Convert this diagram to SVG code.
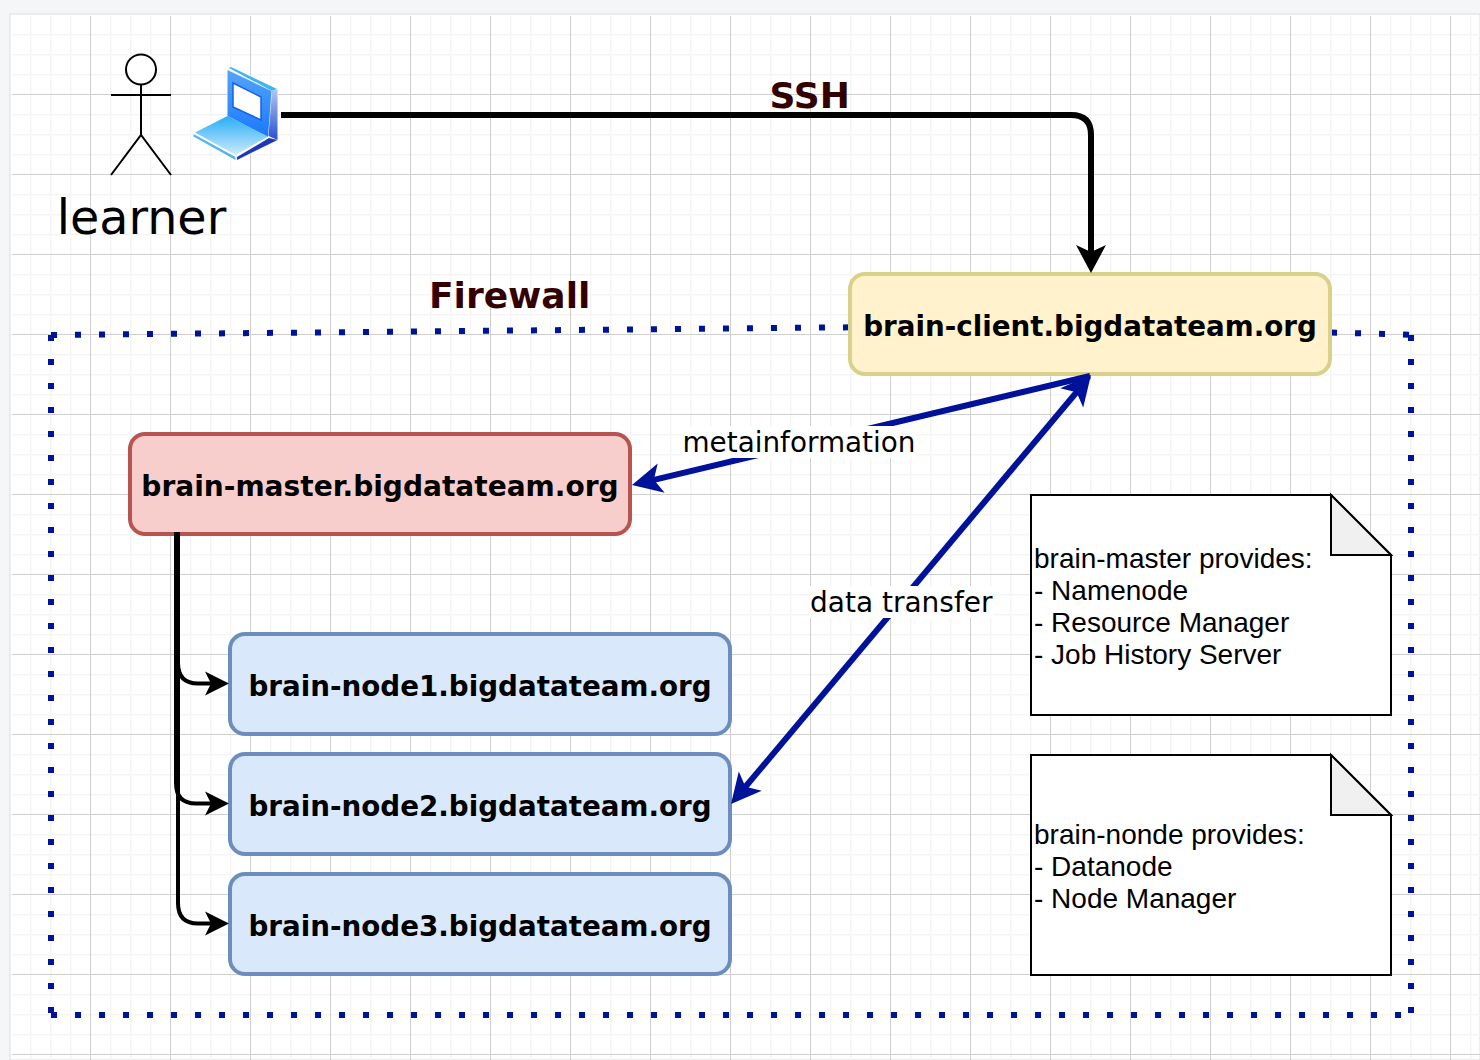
<svg xmlns="http://www.w3.org/2000/svg" width="1480" height="1060" viewBox="0 0 1480 1060">
<style>
.b{font-family:"DejaVu Sans",sans-serif;font-weight:bold;font-size:27.750px;fill:#000;text-anchor:middle}
.h{font-family:"DejaVu Sans",sans-serif;font-weight:bold;fill:#330000;font-size:36px}
.l{font-family:"DejaVu Sans",sans-serif;font-size:27.850px;fill:#000}
.n{font-family:"Liberation Sans",Arial,sans-serif;font-size:28px;fill:#000}
.box{stroke-width:4}
.note{fill:#fff;stroke:#000;stroke-width:2}
.fold{fill:#f0f0f0;stroke:#000;stroke-width:2;stroke-linejoin:miter}
.dot{fill:none;stroke:#00119a;stroke-width:6;stroke-dasharray:6 18}
.blue{fill:none;stroke:#00119a;stroke-width:6}
.blk{fill:none;stroke:#000;stroke-width:4}
</style>
<defs>
<pattern id="grid" patternUnits="userSpaceOnUse" x="90" y="94" width="80" height="80">
<rect x="20" y="0" width="1.5" height="80" fill="#f5f5f5"/><rect x="40" y="0" width="1.5" height="80" fill="#f5f5f5"/><rect x="60" y="0" width="1.5" height="80" fill="#f5f5f5"/>
<rect x="0" y="20" width="80" height="1.5" fill="#f5f5f5"/><rect x="0" y="40" width="80" height="1.5" fill="#f5f5f5"/><rect x="0" y="60" width="80" height="1.5" fill="#f5f5f5"/>
<rect x="0" y="0" width="1" height="80" fill="#cfcfcf"/><rect x="0" y="0" width="80" height="1" fill="#cfcfcf"/>
</pattern>
<marker id="ab" markerUnits="userSpaceOnUse" markerWidth="32" markerHeight="32" refX="16" refY="16" orient="auto-start-reverse"><path d="M30,16 L0,1 L7.500,16 L0,31 Z" fill="#00119a"/></marker>
<marker id="ak" markerUnits="userSpaceOnUse" markerWidth="30" markerHeight="32" refX="14" refY="16" orient="auto"><path d="M28,16 L0,1 L7,16 L0,31 Z" fill="#000"/></marker>
<marker id="as" markerUnits="userSpaceOnUse" markerWidth="26" markerHeight="26" refX="12" refY="13" orient="auto"><path d="M24,13 L0,1 L6,13 L0,25 Z" fill="#000"/></marker>
<linearGradient id="g1" x1="0" y1="0" x2="0" y2="1"><stop offset="0" stop-color="#55a5f8"/><stop offset="1" stop-color="#1a78ff"/></linearGradient>
<linearGradient id="g2" x1="0" y1="0" x2="0" y2="1"><stop offset="0" stop-color="#27aef7"/><stop offset="1" stop-color="#cdeafb"/></linearGradient>
<linearGradient id="g3" x1="0" y1="0" x2="0" y2="1"><stop offset="0" stop-color="#b4c8f0"/><stop offset="1" stop-color="#2a50d0"/></linearGradient>
</defs>
<rect width="1480" height="1060" fill="#f5f6f8"/>
<rect x="10" y="14" width="1470" height="1046" fill="#fff" stroke="#dcdcdc" stroke-width="1"/>
<rect x="12" y="16" width="1468" height="1044" fill="url(#grid)"/>
<g id="firewall">
<path class="dot" d="M51,335 L1090,325"/>
<path class="dot" d="M1409,334.700 L1090,325.700"/>
<path class="dot" d="M51,335 V1013"/>
<path class="dot" d="M1411,335 V1013"/>
<path class="dot" d="M51,1015 H1401"/>
</g>
<g id="learner" fill="none" stroke="#000" stroke-width="2">
<circle cx="141" cy="69.500" r="15" fill="#fff"/>
<path d="M141,85 V135 M111,95 H171 M111,175 L141,135 L171,175"/>
<text x="141.500" y="234" class="l" style="font-size:47.600px;text-anchor:middle;stroke:none">learner</text>
</g>
<g id="laptop">
<path d="M193,133 L227,115 L227,70 L230,66 L278,89 L278,141 L236,161 L193,138 Z" fill="#fff"/>
<path d="M229,68 L231,67 L277,89 L272,91 Z" fill="#3db4f5"/>
<path d="M227.500,70 L271.500,91 L268,137 L227.500,116 Z" fill="url(#g1)"/>
<path d="M272,91 L277.500,89 L277.500,140 L268.500,136 Z" fill="url(#g3)"/>
<path d="M233,83 L261,97 L261,120 L233,107 Z" fill="#fff" stroke="#1560e8" stroke-width="1.500"/>
<path d="M227.500,116 L268,136.500 L235.700,155 L195,132.500 Z" fill="url(#g2)"/>
<path d="M193.500,134 L235.500,157 L235.500,160 L193.500,136.500 Z" fill="#54b4f0"/>
<path d="M237,157 L269,138 L277.500,140 L237,160 Z" fill="#2038b8"/>
</g>
<g id="brain-client"><rect class="box" x="850" y="274" width="480" height="100" rx="15" fill="#fff2cc" stroke="#d9d08a"/><text class="b" x="1090" y="336">brain-client.bigdatateam.org</text></g>
<g id="brain-master"><rect class="box" x="130" y="434" width="500" height="100" rx="15" fill="#f8cecc" stroke="#b85450"/><text class="b" x="380" y="496" style="font-size:28.050px">brain-master.bigdatateam.org</text></g>
<g id="brain-node1"><rect class="box" x="230" y="634" width="500" height="100" rx="15" fill="#dae8fc" stroke="#6c8ebf"/><text class="b" x="480" y="696">brain-node1.bigdatateam.org</text></g>
<g id="brain-node2"><rect class="box" x="230" y="754" width="500" height="100" rx="15" fill="#dae8fc" stroke="#6c8ebf"/><text class="b" x="480" y="816">brain-node2.bigdatateam.org</text></g>
<g id="brain-node3"><rect class="box" x="230" y="874" width="500" height="100" rx="15" fill="#dae8fc" stroke="#6c8ebf"/><text class="b" x="480" y="936">brain-node3.bigdatateam.org</text></g>
<g id="note-master">
<path class="note" d="M1031,495 H1331 L1391,555 V715 H1031 Z"/>
<path class="fold" d="M1331,495 L1391,555 H1331 Z"/>
<text class="n" x="1034" y="568">brain-master provides:</text>
<text class="n" x="1034" y="600">- Namenode</text>
<text class="n" x="1034" y="632">- Resource Manager</text>
<text class="n" x="1034" y="664">- Job History Server</text>
</g>
<g id="note-node">
<path class="note" d="M1031,755 H1331 L1391,815 V975 H1031 Z"/>
<path class="fold" d="M1331,755 L1391,815 H1331 Z"/>
<text class="n" x="1034" y="844">brain-nonde provides:</text>
<text class="n" x="1034" y="876">- Datanode</text>
<text class="n" x="1034" y="908">- Node Manager</text>
</g>
<g id="connectors">
<path d="M281,115 H1071 Q1091,115 1091,135 V259" fill="none" stroke="#000" stroke-width="6" marker-end="url(#ak)"/>
<path class="blk" d="M178,532 V663 Q178,683.500 198,683.500 H217" marker-end="url(#as)"/>
<path class="blk" d="M176,532 V783 Q176,803.500 196,803.500 H217" marker-end="url(#as)"/>
<path class="blk" d="M178,532 V903 Q178,923.500 198,923.500 H217" marker-end="url(#as)"/>
<path class="blue" d="M645.600,481.800 L1090,376" marker-start="url(#ab)"/>
<path class="blue" d="M740,793.300 L1082,385.700" marker-start="url(#ab)" marker-end="url(#ab)"/>
</g>
<g id="labels">
<text class="h" x="769.500" y="108">SSH</text>
<text class="h" x="429" y="308">Firewall</text>
<rect x="682" y="426" width="234" height="32" fill="#fff"/>
<text class="l" x="682.500" y="451.500">metainformation</text>
<rect x="810" y="586" width="183" height="32" fill="#fff"/>
<text class="l" x="810" y="611.500" style="font-size:28px">data transfer</text>
</g>
</svg>
